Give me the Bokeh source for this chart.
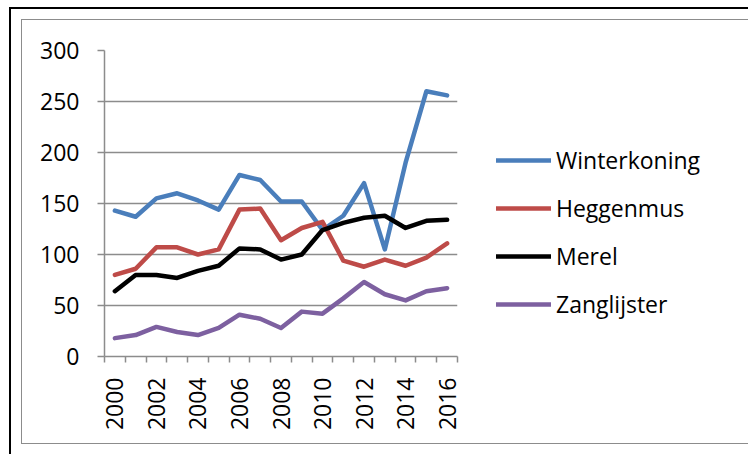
from bokeh.plotting import figure
from bokeh.models import Range1d, FixedTicker, Legend, LegendItem
from bokeh.embed import file_html
from bokeh.resources import INLINE
import math

years = list(range(2000, 2017))
winterkoning = [143, 137, 155, 160, 153, 144, 178, 173, 152, 152, 124, 138, 170, 105, 190, 260, 256]
heggenmus = [80, 86, 107, 107, 100, 105, 144, 145, 114, 126, 132, 94, 88, 95, 89, 97, 111]
merel = [64, 80, 80, 77, 84, 89, 106, 105, 95, 100, 124, 131, 136, 138, 126, 133, 134]
zanglijster = [18, 21, 29, 24, 21, 28, 41, 37, 28, 44, 42, 57, 73, 61, 55, 64, 67]
series_names = ["Winterkoning", "Heggenmus", "Merel", "Zanglijster"]
series_colors = ["#4A7EBB", "#BE4B48", "#000000", "#7D60A0"]
y_ticks = [0, 50, 100, 150, 200, 250, 300]
x_label_years = list(range(2000, 2017, 2))

FONT = "Open Sans"
GRID = "#8C8C8C"

p = figure(width=707, height=423, frame_width=353, frame_height=306,
           min_border_left=82, min_border_top=30, min_border_right=272, min_border_bottom=87,
           x_range=Range1d(years[0] - 0.5, years[-1] + 0.5), y_range=Range1d(0, 300),
           output_backend="svg", toolbar_location=None)
p.outline_line_color = None
p.background_fill_color = "white"
p.border_fill_color = "white"
p.styles = {
    "position": "relative",
    "left": "22px",
    "top": "20px",
    "outline": "1.5px solid #8C8C8C",
    "box-shadow": "0 0 0 11px white, 0 0 0 13px black",
}

# y axis
p.yaxis.ticker = FixedTicker(ticks=y_ticks)
p.yaxis.axis_line_color = GRID
p.yaxis.axis_line_width = 1.5
p.yaxis.major_tick_line_color = GRID
p.yaxis.major_tick_line_width = 1.5
p.yaxis.major_tick_out = 7
p.yaxis.major_tick_in = 0
p.yaxis.minor_tick_line_color = None
p.yaxis.major_label_standoff = 18
p.yaxis.major_label_text_font = FONT
p.yaxis.major_label_text_font_size = "23px"
p.yaxis.major_label_text_color = "black"

# x axis
p.xaxis.ticker = FixedTicker(ticks=x_label_years,
                             minor_ticks=[y - 0.5 for y in years] + [years[-1] + 0.5])
p.xaxis.axis_line_color = GRID
p.xaxis.axis_line_width = 1.5
p.xaxis.major_tick_line_color = None
p.xaxis.major_tick_out = 0
p.xaxis.major_tick_in = 0
p.xaxis.minor_tick_line_color = GRID
p.xaxis.minor_tick_line_width = 1.5
p.xaxis.minor_tick_out = 6
p.xaxis.minor_tick_in = 0
p.xaxis.major_label_orientation = math.pi / 2
p.xaxis.major_label_standoff = 15
p.xaxis.major_label_text_font = FONT
p.xaxis.major_label_text_font_size = "23px"
p.xaxis.major_label_text_color = "black"

p.xgrid.grid_line_color = None
p.ygrid.ticker = FixedTicker(ticks=y_ticks)
p.ygrid.grid_line_color = GRID
p.ygrid.grid_line_width = 1.5

all_series = [winterkoning, heggenmus, merel, zanglijster]
items = []
for name, vals, col in zip(series_names, all_series, series_colors):
    r = p.line(years, vals, line_color=col, line_width=4.5,
               line_join="round", line_cap="round")
    items.append(LegendItem(label=name, renderers=[r]))

legend = Legend(items=items, location=(39, 36), padding=0, margin=0,
                glyph_width=55, glyph_height=20, label_height=20,
                label_standoff=5, spacing=16,
                label_text_font=FONT, label_text_font_size="23px",
                label_text_color="black",
                border_line_color=None, background_fill_alpha=0)
p.add_layout(legend, "right")

open("out.html", "w").write(file_html(p, INLINE))
